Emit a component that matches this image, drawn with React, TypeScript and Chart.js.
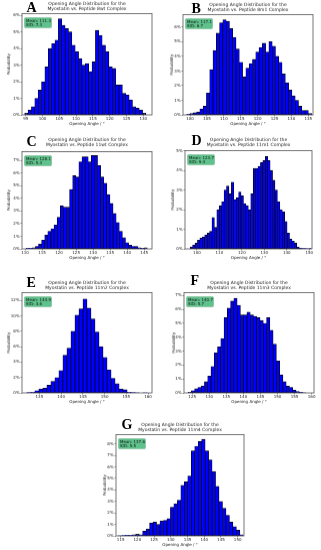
import React, { useEffect, useRef } from "react";
import { Chart, registerables } from "chart.js";
Chart.register(...registerables);

// ---------- data ----------
const titleLine1 = "Opening Angle Distribution for the";
const complexNames = ["8wt", "8m1", "11wt", "11m1", "11m2", "11m3", "11m4"];
const panelLetters = ["A", "B", "C", "D", "E", "F", "G"];
const meanValues = ["111.3", "117.1", "128.1", "123.7", "144.9", "140.7", "137.6"];
const sdValues = ["7.3", "6.7", "5.3", "9.4", "3.6", "5.7", "5.5"];

// probability (%) per histogram bin
const probA = [0.1, 0.3, 0.5, 1.0, 1.5, 2.0, 2.9, 4.0, 4.3, 4.5, 5.8, 5.4, 5.2, 5.0, 4.2, 3.8, 3.4, 3.0, 3.1, 2.6, 3.2, 5.1, 4.8, 4.2, 3.8, 2.9, 2.8, 1.8, 1.8, 1.3, 1.2, 0.9, 0.5, 0.4, 0.3, 0.1];
const probB = [0.05, 0.1, 0.15, 0.2, 0.4, 0.6, 1.5, 3.1, 4.4, 5.6, 6.3, 6.5, 6.4, 5.9, 5.3, 4.5, 3.6, 2.6, 3.2, 3.5, 3.8, 4.3, 4.6, 4.9, 4.3, 5.0, 4.7, 4.0, 3.6, 2.8, 2.2, 1.7, 1.3, 1.0, 0.6, 0.3, 0.3, 0.1];
const probC = [0.05, 0.05, 0.1, 0.2, 0.4, 0.7, 1.1, 1.4, 1.6, 1.9, 2.5, 3.4, 3.3, 3.3, 4.7, 5.8, 5.7, 6.9, 7.3, 7.3, 6.9, 7.4, 7.4, 6.6, 5.7, 5.2, 4.3, 3.6, 2.8, 2.1, 1.4, 0.9, 0.5, 0.3, 0.2, 0.2, 0.1, 0.05, 0.1];
const probD = [0.1, 0.2, 0.3, 0.45, 0.55, 0.6, 0.7, 0.8, 0.9, 1.6, 1.1, 2.0, 2.2, 2.4, 3.0, 3.2, 2.8, 3.4, 2.5, 2.6, 2.9, 2.7, 2.3, 2.2, 2.0, 2.8, 4.1, 4.1, 4.2, 4.4, 4.5, 4.7, 4.5, 4.0, 3.5, 3.0, 2.4, 2.0, 1.9, 1.4, 0.8, 0.5, 0.4, 0.3, 0.1, 0.05, 0.02, 0.02, 0.01, 0.02];
const probE = [0.05, 0.1, 0.3, 0.5, 0.6, 1.0, 1.5, 2.0, 2.9, 4.9, 5.8, 8.0, 10.1, 10.9, 12.2, 11.0, 9.6, 7.9, 6.0, 4.6, 3.0, 1.9, 1.2, 0.5, 0.4, 0.1, 0.05, 0.02, 0, 0.02];
const probF = [0.05, 0.15, 0.3, 0.4, 0.5, 0.8, 1.2, 1.9, 2.9, 3.3, 3.9, 5.4, 6.1, 6.6, 6.8, 6.3, 5.6, 5.6, 5.8, 5.6, 5.5, 5.4, 5.2, 5.0, 5.4, 4.5, 3.5, 2.3, 1.3, 0.8, 0.5, 0.4, 0.2, 0.1, 0.05, 0.02];
const probG = [0.02, 0.03, 0.05, 0.05, 0.1, 0.15, 0.1, 0.4, 0.6, 1.1, 1.2, 1.0, 1.3, 1.35, 1.5, 2.5, 2.8, 3.1, 4.4, 4.7, 5.2, 7.4, 7.8, 8.2, 8.4, 7.4, 6.6, 5.6, 4.3, 3.0, 2.4, 1.8, 1.2, 0.8, 0.5, 0.1];
const probs = [probA, probB, probC, probD, probE, probF, probG];

// histogram range (first bin edge, last bin edge), degrees
const binLo = [94.7, 99.0, 110.3, 97.0, 132.1, 123.8, 114.3];
const binHi = [130.8, 136.0, 145.9, 150.9, 159.8, 158.3, 151.7];

// axis ranges and tick steps
const xMinArr = [93.9, 97.9, 109.1, 94.7, 131.0, 122.6, 113.6];
const xMaxArr = [132.6, 136.4, 147.3, 151.2, 160.9, 160.7, 151.9];
const xStepArr = [5, 5, 5, 10, 5, 5, 5];
const yMaxArr = [6.1, 6.85, 7.7, 5.0, 13.0, 7.2, 8.8];
const yStepArr = [1, 1, 1, 1, 2, 1, 1];

// ---------- layout (page px) ----------
const layouts = [
  { plotL: 22, plotT: 14, plotR: 152, plotB: 115, titleY: 4, letterX: 27, letterY: 3, yGap: 13 },
  { plotL: 183, plotT: 15, plotR: 313, plotB: 115, titleY: 5, letterX: 192, letterY: 4, yGap: 11 },
  { plotL: 22, plotT: 152, plotR: 152, plotB: 249, titleY: 140, letterX: 27, letterY: 137, yGap: 13 },
  { plotL: 185, plotT: 151, plotR: 312, plotB: 249, titleY: 140, letterX: 192, letterY: 136, yGap: 12 },
  { plotL: 22, plotT: 293, plotR: 152, plotB: 393, titleY: 283, letterX: 27, letterY: 278, yGap: 13 },
  { plotL: 184, plotT: 293, plotR: 314, plotB: 393, titleY: 283, letterX: 191, letterY: 276, yGap: 10 },
  { plotL: 116, plotT: 435, plotR: 244, plotB: 536, titleY: 425, letterX: 122, letterY: 420, yGap: 11 },
];

const FONT = "DejaVu Sans";
const TEXT = "#222";
const TITLE_SIZE = 4.5;
const TITLE_LH = 1.15;
const SMALL = 4;
const Y_W = 22;
const X_H = 14;

const framePlugin = {
  id: "frameBox",
  afterDatasetsDraw(chart: any) {
    const { ctx, chartArea: a } = chart;
    ctx.save();
    ctx.strokeStyle = "#555";
    ctx.lineWidth = 0.8;
    ctx.strokeRect(a.left, a.top, a.right - a.left, a.bottom - a.top);
    ctx.restore();
  },
};

const statsPlugin = {
  id: "statsBox",
  afterDraw(chart: any, _args: any, opts: any) {
    if (!opts || !opts.mean) return;
    const { ctx, chartArea: a } = chart;
    const x = a.left + 2.5;
    const y = a.top + 4;
    const w = 27;
    const h = 10;
    ctx.save();
    ctx.beginPath();
    if (ctx.roundRect) ctx.roundRect(x, y, w, h, 1);
    else ctx.rect(x, y, w, h);
    ctx.fillStyle = "rgba(60,179,113,0.82)";
    ctx.fill();
    ctx.strokeStyle = "#3f8f5f";
    ctx.lineWidth = 0.3;
    ctx.stroke();
    ctx.fillStyle = "#111";
    ctx.font = `${SMALL}px "${FONT}"`;
    ctx.textBaseline = "middle";
    ctx.textAlign = "left";
    ctx.fillText(`Mean: ${opts.mean}`, x + 1.5, y + 3);
    ctx.fillText(`StD: ${opts.sd}`, x + 1.5, y + 7.3);
    ctx.restore();
  },
};

function Panel({ idx }: { idx: number }) {
  const ref = useRef<HTMLCanvasElement>(null);
  const L = layouts[idx];
  const lh = TITLE_SIZE * TITLE_LH;
  const canvasLeft = L.plotL - Y_W;
  const canvasTop = L.titleY - lh / 2 - 1;
  const canvasW = L.plotR - canvasLeft + 6;
  const canvasH = L.plotB + X_H - canvasTop;

  useEffect(() => {
    const canvas = ref.current;
    if (!canvas) return;
    const vals = probs[idx];
    const lo = binLo[idx];
    const w = (binHi[idx] - lo) / vals.length;
    const pts = vals.map((v, i) => ({ x: lo + (i + 0.5) * w, y: v }));
    const smallFont = { family: FONT, size: SMALL, lineHeight: 1.2 };
    const titleBottom = L.plotT - canvasTop - 1 - 2 * lh;
    const yTitlePad = Y_W - L.yGap - (SMALL * 1.2) / 2;

    const chart = new Chart(canvas, {
      type: "bar",
      data: {
        datasets: [
          {
            data: pts as any,
            backgroundColor: "#0000ff",
            borderColor: "#000",
            borderWidth: 0.7,
            borderSkipped: false,
            categoryPercentage: 1,
            barPercentage: 1,
          } as any,
        ],
      },
      options: {
        responsive: false,
        animation: false,
        devicePixelRatio: 1,
        layout: { padding: { left: 0, right: 6, top: 0, bottom: 0 } },
        plugins: {
          legend: { display: false },
          tooltip: { enabled: false },
          title: {
            display: true,
            text: [titleLine1, `Myostatin vs. Peptide ${complexNames[idx]} Complex`],
            font: { family: FONT, size: TITLE_SIZE, lineHeight: TITLE_LH, weight: "normal" },
            color: TEXT,
            padding: { top: 1, bottom: titleBottom },
            fullSize: false,
          },
          statsBox: { mean: meanValues[idx], sd: sdValues[idx] },
        } as any,
        scales: {
          x: {
            type: "linear",
            min: xMinArr[idx],
            max: xMaxArr[idx],
            offset: false,
            grid: {
              display: true,
              drawOnChartArea: false,
              drawTicks: true,
              tickLength: 1.5,
              color: "#333",
              lineWidth: 0.5,
              offset: false,
            },
            border: { display: false },
            ticks: {
              stepSize: xStepArr[idx],
              includeBounds: false,
              autoSkip: false,
              maxRotation: 0,
              font: smallFont,
              color: TEXT,
              padding: 0.5,
              callback: (v: any) => String(v),
            },
            title: {
              display: true,
              text: "Opening Angle / °",
              font: smallFont,
              color: TEXT,
              padding: { top: 0, bottom: 2.6 },
            },
            afterFit: (s: any) => {
              s.height = X_H;
            },
          },
          y: {
            type: "linear",
            min: 0,
            max: yMaxArr[idx],
            grid: {
              display: true,
              drawOnChartArea: false,
              drawTicks: true,
              tickLength: 1.5,
              color: "#333",
              lineWidth: 0.5,
            },
            border: { display: false },
            ticks: {
              stepSize: yStepArr[idx],
              includeBounds: false,
              font: smallFont,
              color: TEXT,
              padding: 0.8,
              callback: (v: any) => `${v}%`,
            },
            title: {
              display: true,
              text: "Probability",
              font: smallFont,
              color: TEXT,
              padding: { top: yTitlePad, bottom: 0 },
            },
            afterFit: (s: any) => {
              s.width = Y_W;
            },
          },
        } as any,
      },
      plugins: [framePlugin, statsPlugin],
    });
    return () => chart.destroy();
  }, [idx]);

  return (
    <>
      <canvas
        ref={ref}
        width={canvasW}
        height={canvasH}
        style={{
          position: "absolute",
          left: canvasLeft,
          top: canvasTop,
          width: canvasW,
          height: canvasH,
        }}
      />
      <div
        style={{
          position: "absolute",
          left: L.letterX - 0.5,
          top: L.letterY - 2.5,
          fontFamily: '"Liberation Serif", serif',
          fontWeight: "bold",
          fontSize: 14,
          lineHeight: "14px",
          color: "#000",
        }}
      >
        {panelLetters[idx]}
      </div>
    </>
  );
}

export default function App() {
  return (
    <div
      style={{
        position: "absolute",
        left: 0,
        top: 0,
        width: 321,
        height: 550,
        background: "#fff",
        overflow: "hidden",
      }}
    >
      {layouts.map((_, i) => (
        <Panel key={i} idx={i} />
      ))}
    </div>
  );
}
